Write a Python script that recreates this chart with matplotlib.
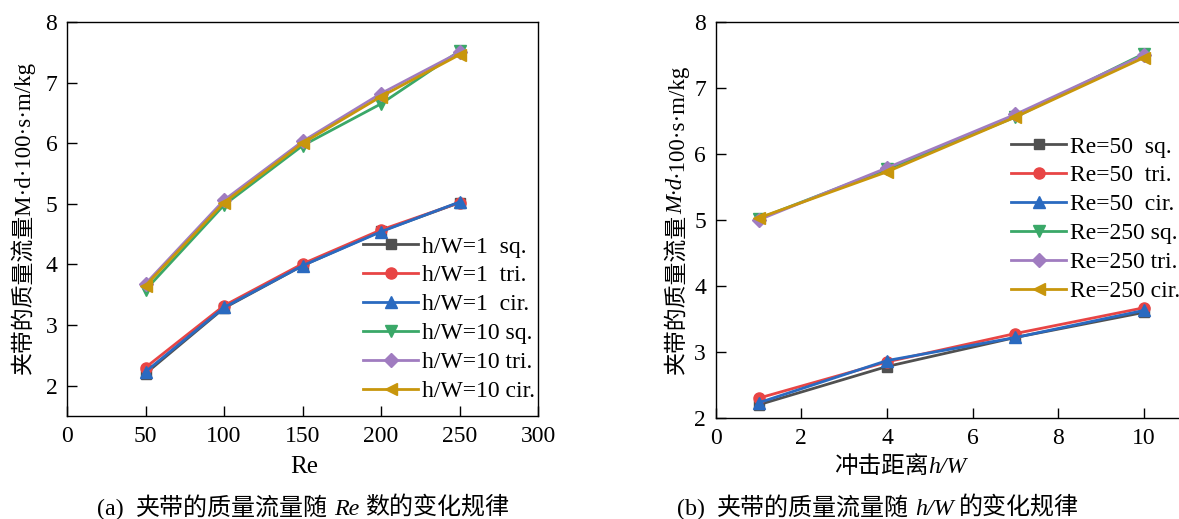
import matplotlib
matplotlib.use('Agg')
import matplotlib.pyplot as plt
from matplotlib.transforms import IdentityTransform

plt.rcParams['font.family'] = ['Liberation Serif', 'Noto Sans CJK SC']
plt.rcParams['font.size'] = 17

# (a) mass flow vs Re
re_vals = [50, 100, 150, 200, 250]
hw1_sq = [2.20, 3.28, 3.98, 4.55, 5.02]
hw1_tri = [2.30, 3.32, 4.01, 4.57, 5.02]
hw1_cir = [2.23, 3.29, 3.98, 4.54, 5.03]
hw10_sq = [3.58, 4.98, 5.96, 6.65, 7.52]
hw10_tri = [3.68, 5.06, 6.03, 6.82, 7.50]
hw10_cir = [3.65, 5.02, 6.00, 6.77, 7.46]
labels_a = ['h/W=1  sq.', 'h/W=1  tri.', 'h/W=1  cir.',
            'h/W=10 sq.', 'h/W=10 tri.', 'h/W=10 cir.']

# (b) mass flow vs h/W
hw_vals = [1, 4, 7, 10]
re50_sq = [2.20, 2.78, 3.22, 3.60]
re50_tri = [2.30, 2.85, 3.28, 3.67]
re50_cir = [2.23, 2.87, 3.22, 3.63]
re250_sq = [5.02, 5.77, 6.56, 7.52]
re250_tri = [5.00, 5.79, 6.60, 7.50]
re250_cir = [5.03, 5.73, 6.56, 7.46]
labels_b = ['Re=50  sq.', 'Re=50  tri.', 'Re=50  cir.',
            'Re=250 sq.', 'Re=250 tri.', 'Re=250 cir.']

colors = ['#505050', '#E84545', '#2A6AC0', '#3AA868', '#A07CC0', '#C8960C']
markers = ['s', 'o', '^', 'v', 'D', '<']
msizes = [7, 8, 8.5, 8.5, 7, 8.5]

W, H = 1179, 519
fig = plt.figure(figsize=(W / 100, H / 100), dpi=100)

ax1 = fig.add_axes([67 / W, 1 - 416 / H, 471 / W, 394 / H])
ax2 = fig.add_axes([715.7 / W, 1 - 418 / H, 471 / W, 396 / H])


def style_axis(ax):
    ax.tick_params(direction='in', length=7.5, width=1, pad=7,
                   top=False, right=False, labelsize=17)
    for s in ax.spines.values():
        s.set_linewidth(1)


leg_kw = dict(bbox_transform=fig.transFigure, frameon=False, fontsize=17,
              handlelength=2.33, handletextpad=0.17, labelspacing=0.31,
              borderpad=0, borderaxespad=0, loc='center left')

for ys, c, m, ms, lab in zip([hw1_sq, hw1_tri, hw1_cir, hw10_sq, hw10_tri, hw10_cir],
                             colors, markers, msizes, labels_a):
    ax1.plot(re_vals, ys, color=c, marker=m, ms=ms, lw=2, label=lab)
ax1.set_xlim(0, 300)
ax1.set_ylim(1.5, 8)
ax1.set_xticks([0, 50, 100, 150, 200, 250, 300])
ax1.set_yticks([2, 3, 4, 5, 6, 7, 8])
style_axis(ax1)
ax1.legend(bbox_to_anchor=(363 / W, 1 - 319 / H), **leg_kw)

for ys, c, m, ms, lab in zip([re50_sq, re50_tri, re50_cir, re250_sq, re250_tri, re250_cir],
                             colors, markers, msizes, labels_b):
    ax2.plot(hw_vals, ys, color=c, marker=m, ms=ms, lw=2, label=lab)
ax2.set_xlim(0, 11)
ax2.set_ylim(2, 8)
ax2.set_xticks([0, 2, 4, 6, 8, 10])
ax2.set_yticks([2, 3, 4, 5, 6, 7, 8])
style_axis(ax2)
ax2.legend(bbox_to_anchor=(1011 / W, 1 - 219 / H), **leg_kw)

renderer = fig.canvas.get_renderer()


def rich(cx, cy, pieces, rotation=0, size=17):
    # pieces: (text, italic, gap_after_px); centred at pixel (cx, cy from top)
    arts = []
    for txt, it, gap in pieces:
        t = fig.text(0, 0, txt, transform=IdentityTransform(), fontsize=size,
                     style='italic' if it else 'normal', rotation=rotation,
                     ha='left', va='baseline', rotation_mode='anchor')
        bb = t.get_window_extent(renderer)
        adv = bb.height if rotation == 90 else bb.width
        arts.append((t, adv, gap))
    total = sum(a + g for _, a, g in arts) - arts[-1][2]
    ypix = H - cy
    if rotation == 90:
        pos = ypix - total / 2
        for t, a, g in arts:
            t.set_position((cx + size * 0.45, pos))
            pos += a + g
    else:
        pos = cx - total / 2
        for t, a, g in arts:
            t.set_position((pos, ypix - size * 0.45))
            pos += a + g


rich(22, 218, [('夹带的质量流量M·d·100·s·m/kg', False, 0)], rotation=90, size=16.5)
rich(675, 219, [('夹带的质量流量', False, 0), ('M·d', True, 0),
                ('·100·s·m/kg', False, 0)], rotation=90, size=16.5)

rich(304, 465, [('Re', False, 0)], size=18)
rich(900, 465, [('冲击距离', False, 0), ('h/W', True, 0)], size=17)

rich(303, 507, [('(a)', False, 12), ('夹带的质量流量随', False, 6),
                ('Re', True, 6), ('数的变化规律', False, 0)], size=17.3)
rich(878, 507, [('(b)', False, 12), ('夹带的质量流量随', False, 6),
                ('h/W', True, 6), ('的变化规律', False, 0)], size=17.3)

fig.savefig('out.png', dpi=100)
